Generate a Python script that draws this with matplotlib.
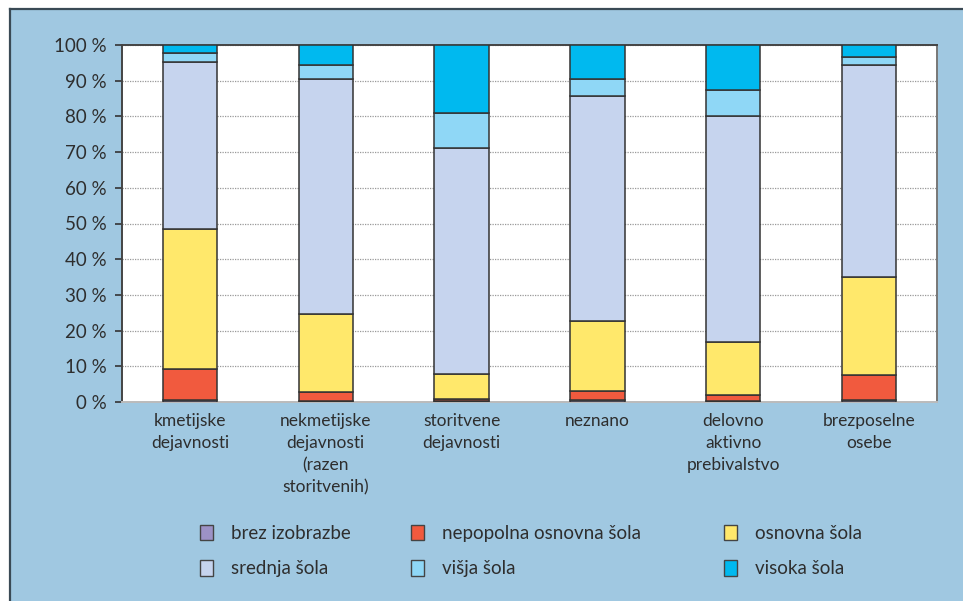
import matplotlib
matplotlib.use("Agg")
import matplotlib.pyplot as plt
from matplotlib.patches import Rectangle, Patch
import numpy as np

categories = ["kmetijske\ndejavnosti", "nekmetijske\ndejavnosti\n(razen\nstoritvenih)",
              "storitvene\ndejavnosti", "neznano", "delovno\naktivno\nprebivalstvo",
              "brezposelne\nosebe"]
series_names = ["brez izobrazbe", "nepopolna osnovna šola", "osnovna šola",
                "srednja šola", "višja šola", "visoka šola"]

# shares in %
brez = [0.5, 0.3, 0.3, 0.5, 0.3, 0.7]
nepopolna = [8.7, 2.5, 0.5, 2.6, 1.7, 6.9]
osnovna = [39.3, 21.8, 7.0, 19.6, 14.7, 27.4]
srednja = [46.7, 65.8, 63.3, 63.1, 63.5, 59.5]
visja = [2.5, 4.1, 9.9, 4.8, 7.1, 2.1]
visoka = [2.3, 5.5, 19.0, 9.4, 12.7, 3.4]

colors = ["#9d92c6", "#f15a3e", "#ffe86b", "#c6d4ee", "#8fd7f6", "#00b9ef"]
bg = "#a0c8e1"
txt = "#2e2e2e"

plt.rcParams["font.family"] = ["Lato", "DejaVu Sans"]

fig = plt.figure(figsize=(9.63, 6.01), dpi=100, facecolor="white")
# blue frame with dark top/left border
fig.patches.append(Rectangle((10 / 963, 0), 1, 1 - 9 / 601, transform=fig.transFigure,
                             facecolor=bg, edgecolor="none", zorder=-10))
fig.lines.append(plt.Line2D([10 / 963, 10 / 963], [0, 1 - 9 / 601], transform=fig.transFigure,
                            color="#3a4a55", lw=1.6, zorder=-5))
fig.lines.append(plt.Line2D([10 / 963, 1], [1 - 9 / 601, 1 - 9 / 601], transform=fig.transFigure,
                            color="#3a4a55", lw=1.6, zorder=-5))

ax = fig.add_axes([122 / 963, 199 / 601, 815 / 963, 357 / 601])
ax.set_facecolor("white")

x = np.arange(len(categories))
bottom = np.zeros(len(categories))
for vals, col, name in zip([brez, nepopolna, osnovna, srednja, visja, visoka], colors, series_names):
    ax.bar(x, vals, 0.4, bottom=bottom, color=col, edgecolor="#333333", linewidth=1.1,
           label=name, zorder=3)
    bottom += np.array(vals)

ax.set_xlim(-0.5, 5.5)
ax.set_ylim(0, 100)
ax.set_yticks(np.arange(0, 101, 10))
ax.set_yticklabels([f"{v} %" for v in range(0, 101, 10)], fontsize=13.5, color=txt)
ax.set_xticks(x)
ax.set_xticklabels(categories, fontsize=12.5, color=txt, linespacing=1.47, va="top")
ax.tick_params(axis="x", length=0, pad=8)
ax.tick_params(axis="y", length=5, width=1.2, color="#333333", pad=6)
ax.yaxis.grid(True, linestyle=(0, (1, 1)), color="#999999", linewidth=0.9, zorder=0)
ax.set_axisbelow(True)

for s in ["top", "left"]:
    ax.spines[s].set_color("#444444")
    ax.spines[s].set_linewidth(1.4)
ax.spines["right"].set_color("#777777")
ax.spines["right"].set_linewidth(1.4)
ax.spines["bottom"].set_color("#bbbbbb")
ax.spines["bottom"].set_linewidth(1.4)

# legend in three columns, two rows, placed by column
handles = [Patch(facecolor=c, edgecolor="#444444", linewidth=1.0) for c in colors]
col_x = [183 / 963, 394 / 963, 707 / 963]
for i, cx in enumerate(col_x):
    leg = fig.legend([handles[i], handles[i + 3]], [series_names[i], series_names[i + 3]],
                     loc="upper left", bbox_to_anchor=(cx, 1 - 508 / 601), ncol=1,
                     frameon=False, fontsize=13.5, handlelength=0.7, handleheight=0.9,
                     handletextpad=0.95, labelspacing=0.95, labelcolor=txt)

fig.savefig("out.png", dpi=100, facecolor="white")
